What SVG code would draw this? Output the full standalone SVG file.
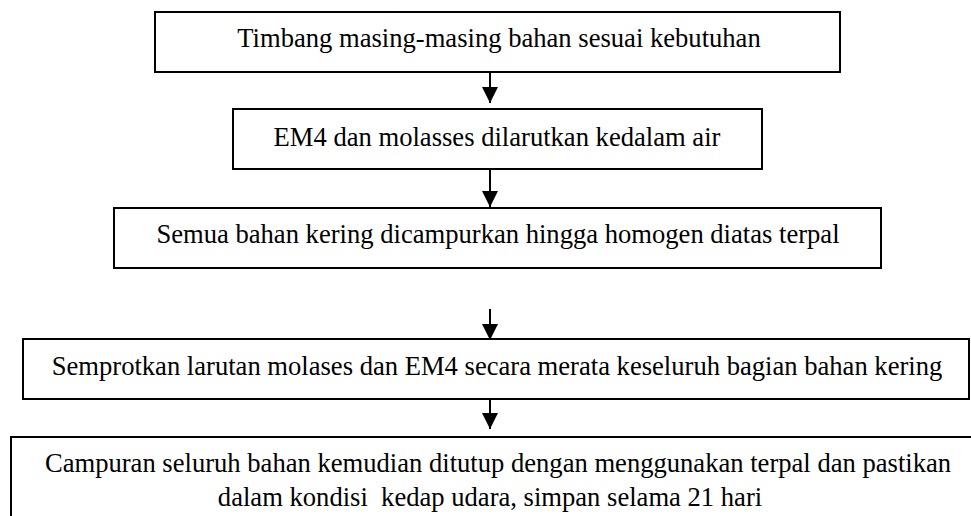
<svg xmlns="http://www.w3.org/2000/svg" width="971" height="516" viewBox="0 0 971 516">
<style>
.box{fill:#fff;stroke:#000;stroke-width:2}
.t{font-family:"Liberation Serif","Times New Roman",Times,serif;font-size:26.6px;fill:#000;text-anchor:middle;white-space:pre}
.c{stroke:#000;stroke-width:2;fill:none;marker-end:url(#ah)}
</style>
<defs>
<marker id="ah" markerUnits="userSpaceOnUse" markerWidth="16" markerHeight="16" refX="15" refY="7.5" orient="auto" viewBox="0 0 15 15">
<path d="M0,0 L15,7.5 L0,15 z" fill="#000"/>
</marker>
</defs>
<rect width="971" height="516" fill="#fff"/>
<g id="connectors">
<line class="c" x1="490" y1="72" x2="490" y2="103"/>
<line class="c" x1="490" y1="168" x2="490" y2="207"/>
<line class="c" x1="490" y1="309" x2="490" y2="340"/>
<line class="c" x1="490" y1="399" x2="490" y2="429"/>
</g>
<g id="n1">
<rect class="box" x="155" y="12" width="685" height="60"/>
<text class="t" x="499" y="47">Timbang masing-masing bahan sesuai kebutuhan</text>
</g>
<g id="n2">
<rect class="box" x="233" y="109" width="529" height="60"/>
<text class="t" x="497" y="146">EM4 dan molasses dilarutkan kedalam air</text>
</g>
<g id="n3">
<rect class="box" x="114" y="208" width="767" height="60"/>
<text class="t" x="498" y="243">Semua bahan kering dicampurkan hingga homogen diatas terpal</text>
</g>
<g id="n4">
<rect class="box" x="23" y="339" width="946" height="60"/>
<text class="t" x="497" y="375">Semprotkan larutan molases dan EM4 secara merata keseluruh bagian bahan kering</text>
</g>
<g id="n5">
<rect class="box" x="11" y="437" width="1000" height="120"/>
<text class="t" x="498" y="472">Campuran seluruh bahan kemudian ditutup dengan menggunakan terpal dan pastikan</text>
<text class="t" x="490" y="506" xml:space="preserve">dalam kondisi  kedap udara, simpan selama 21 hari</text>
</g>
</svg>
